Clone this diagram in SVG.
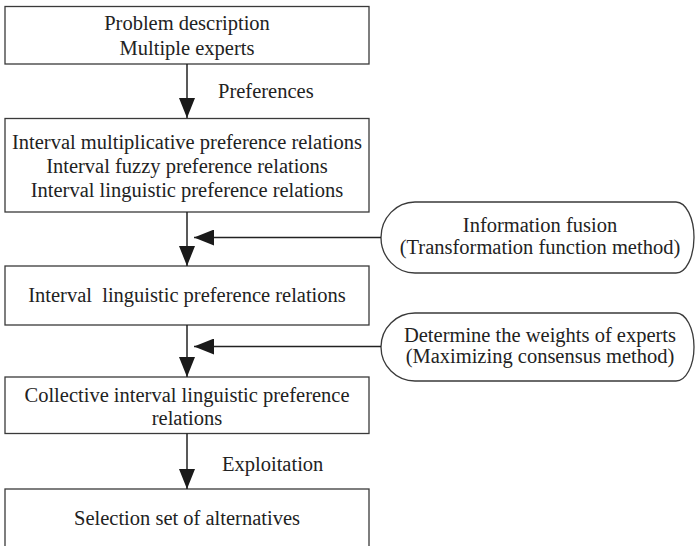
<svg xmlns="http://www.w3.org/2000/svg" width="695" height="546" viewBox="0 0 695 546">
<style>
.box{fill:#fff;stroke:#3a3a3a;stroke-width:1.3}
.t{font-family:"Liberation Serif","Times New Roman",serif;font-size:20.5px;fill:#222;text-anchor:middle}
.tl{font-family:"Liberation Serif","Times New Roman",serif;font-size:20.5px;fill:#222}
.ln{stroke:#222;stroke-width:1.5;fill:none}
.ah{fill:#1a1a1a}
</style>
<defs>
<marker id="arr" markerWidth="20" markerHeight="16" refX="20" refY="8" orient="auto" markerUnits="userSpaceOnUse">
<path class="ah" d="M0,0 L20,8 L0,16 Z"/>
</marker>
</defs>
<rect width="695" height="546" fill="#fff"/>
<g id="n1">
<rect class="box" x="5" y="6.5" width="364" height="57.5"/>
<text class="t" x="187" y="30">Problem description</text>
<text class="t" x="187" y="55">Multiple experts</text>
</g>
<g id="n2">
<rect class="box" x="5" y="118.5" width="364" height="93.5"/>
<text class="t" x="187" y="149">Interval multiplicative preference relations</text>
<text class="t" x="187" y="173">Interval fuzzy preference relations</text>
<text class="t" x="187" y="197">Interval linguistic preference relations</text>
</g>
<g id="n3">
<rect class="box" x="5" y="266" width="364" height="59"/>
<text class="t" x="187" y="302" xml:space="preserve">Interval  linguistic preference relations</text>
</g>
<g id="n4">
<rect class="box" x="5" y="377" width="364" height="56.5"/>
<text class="t" x="187" y="402">Collective interval linguistic preference</text>
<text class="t" x="187" y="425">relations</text>
</g>
<g id="n5">
<rect class="box" x="5" y="489" width="364" height="80"/>
<text class="t" x="187" y="525">Selection set of alternatives</text>
</g>
<g id="p1">
<path class="box" d="M415,202 L676,202 A18,35.5 0 0 1 676,273 L415,273 A34,35.5 0 0 1 415,202 Z"/>
<text class="t" x="540" y="232">Information fusion</text>
<text class="t" x="540" y="254">(Transformation function method)</text>
</g>
<g id="p2">
<path class="box" d="M415,313 L676,313 A18,34 0 0 1 676,381 L415,381 A34,34 0 0 1 415,313 Z"/>
<text class="t" x="540" y="342">Determine the weights of experts</text>
<text class="t" x="540" y="363">(Maximizing consensus method)</text>
</g>
<g id="connectors">
<line class="ln" x1="187" y1="64" x2="187" y2="118" marker-end="url(#arr)"/>
<text class="tl" x="218" y="98">Preferences</text>
<line class="ln" x1="187" y1="212" x2="187" y2="266" marker-end="url(#arr)"/>
<line class="ln" x1="381" y1="237.5" x2="194" y2="237.5" marker-end="url(#arr)"/>
<line class="ln" x1="187" y1="325" x2="187" y2="377" marker-end="url(#arr)"/>
<line class="ln" x1="381" y1="346.5" x2="194" y2="346.5" marker-end="url(#arr)"/>
<line class="ln" x1="187" y1="433.5" x2="187" y2="489" marker-end="url(#arr)"/>
<text class="tl" x="222" y="471">Exploitation</text>
</g>
</svg>
